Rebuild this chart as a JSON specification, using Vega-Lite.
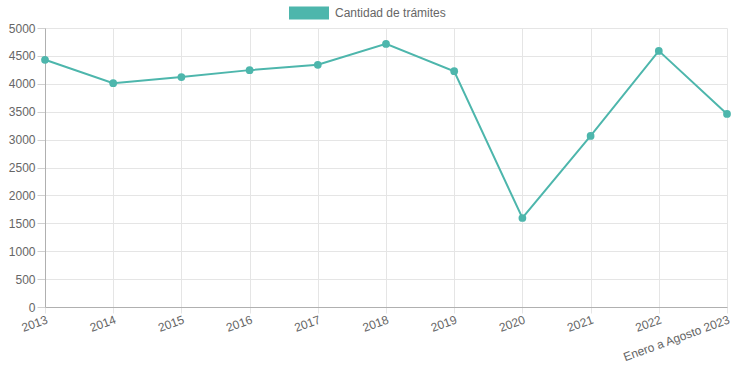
{
  "$schema": "https://vega.github.io/schema/vega-lite/v6.json",
  "width": 682,
  "height": 279,
  "autosize": {"type": "none"},
  "padding": {"left": 45, "top": 28, "right": 10, "bottom": 75},
  "background": "white",
  "data": {
    "values": [
      {"anio": "2013", "valor": 4430},
      {"anio": "2014", "valor": 4010},
      {"anio": "2015", "valor": 4120},
      {"anio": "2016", "valor": 4245},
      {"anio": "2017", "valor": 4340},
      {"anio": "2018", "valor": 4715},
      {"anio": "2019", "valor": 4225},
      {"anio": "2020", "valor": 1595},
      {"anio": "2021", "valor": 3065},
      {"anio": "2022", "valor": 4590},
      {"anio": "Enero a Agosto 2023", "valor": 3460}
    ]
  },
  "encoding": {
    "x": {
      "field": "anio", "type": "ordinal", "sort": null,
      "scale": {"type": "point", "padding": 0},
      "axis": {
        "title": null, "labelAngle": -20, "labelAlign": "right", "labelBaseline": "top",
        "grid": true, "gridColor": "#e5e5e5", "domainColor": "#b0b0b0",
        "tickColor": "#e5e5e5", "tickSize": 6, "labelPadding": 1
      }
    },
    "y": {
      "field": "valor", "type": "quantitative",
      "scale": {"domain": [0, 5000], "nice": false},
      "axis": {
        "title": null, "values": [0,500,1000,1500,2000,2500,3000,3500,4000,4500,5000],
        "format": "d",
        "grid": true, "gridColor": "#e5e5e5", "domainColor": "#b0b0b0",
        "tickColor": "#d0d0d0", "tickSize": 8, "labelPadding": 2
      }
    },
    "color": {
      "datum": "Cantidad de trámites",
      "scale": {"range": ["#4DB6AC"]},
      "legend": {
        "title": null, "orient": "none", "legendX": 244, "legendY": -35,
        "symbolType": "M-1,-0.33H1V0.33H-1Z", "symbolSize": 1600,
        "symbolFillColor": "#4DB6AC", "symbolStrokeColor": "#4DB6AC", "symbolStrokeWidth": 0,
        "labelFont": "Liberation Sans", "labelFontSize": 12, "labelColor": "#666666",
        "labelOffset": 6
      }
    }
  },
  "layer": [
    {"mark": {"type": "line", "strokeWidth": 2}},
    {"mark": {"type": "point", "filled": true, "size": 60, "opacity": 1}}
  ],
  "config": {
    "view": {"stroke": null},
    "axis": {
      "labelFont": "Liberation Sans", "labelFontSize": 12, "labelColor": "#666666"
    }
  }
}
